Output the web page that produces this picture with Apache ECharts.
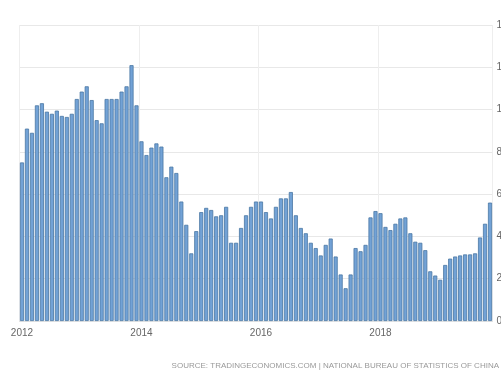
<!DOCTYPE html>
<html>
<head>
<meta charset="utf-8">
<script src="https://cdn.jsdelivr.net/npm/echarts@6/dist/echarts.min.js"></script>
<style>
html,body{margin:0;padding:0;background:#fff;}
#chart{width:501px;height:371px;}
</style>
</head>
<body>
<div id="chart"></div>
<script>
// Monthly categories: Jan 2012 .. Nov 2019
const startYear = 2012;
const monthCount = 95;
const yTicks = [0, 2, 4, 6, 8, 10, 12, 14];
const values = [
  7.5, 9.1, 8.9, 10.2, 10.3, 9.9, 9.8, 9.95, 9.7, 9.65, 9.8, 10.5,
  10.85, 11.1, 10.45, 9.5, 9.35, 10.5, 10.5, 10.5, 10.85, 11.1, 12.1, 10.2,
  8.5, 7.85, 8.2, 8.4, 8.25, 6.8, 7.3, 7.0, 5.65, 4.55, 3.2, 4.25,
  5.15, 5.35, 5.25, 4.95, 5.0, 5.4, 3.7, 3.7, 4.4, 5.0, 5.4, 5.65,
  5.65, 5.15, 4.85, 5.4, 5.8, 5.8, 6.1, 5.0, 4.4, 4.15, 3.7, 3.45,
  3.1, 3.6, 3.9, 3.05, 2.2, 1.55, 2.2, 3.45, 3.3, 3.6, 4.9, 5.2,
  5.1, 4.45, 4.3, 4.6, 4.85, 4.9, 4.15, 3.75, 3.7, 3.35, 2.35, 2.15,
  1.95, 2.65, 2.95, 3.05, 3.1, 3.15, 3.15, 3.2, 3.95, 4.6, 5.6
];
const sourceText = 'SOURCE: TRADINGECONOMICS.COM | NATIONAL BUREAU OF STATISTICS OF CHINA';

const categories = [];
for (let i = 0; i < monthCount; i++) {
  const y = startYear + Math.floor(i / 12);
  const m = (i % 12) + 1;
  categories.push(y + '-' + (m < 10 ? '0' + m : m));
}

const chart = echarts.init(document.getElementById('chart'), null, {renderer: 'canvas'});
chart.setOption({
  animation: false,
  backgroundColor: '#ffffff',
  grid: {left: 19.5, right: 8.5, top: 25, bottom: 50, containLabel: false, outerBoundsMode: 'none'},
  xAxis: {
    type: 'category',
    data: categories,
    boundaryGap: true,
    axisLine: {show: true, lineStyle: {color: '#e2e2e2'}},
    axisTick: {show: false},
    axisLabel: {
      interval: function (idx) { return idx % 24 === 0; },
      formatter: function (v) { return v.slice(0, 4); },
      color: '#666',
      fontSize: 10,
      fontFamily: 'Liberation Sans Narrow, Liberation Sans, Arial',
      margin: 7
    },
    splitLine: {
      show: true,
      interval: function (idx) { return idx % 24 === 0; },
      lineStyle: {color: '#eeeeee', width: 1}
    }
  },
  yAxis: {
    type: 'value',
    position: 'right',
    min: yTicks[0],
    max: yTicks[yTicks.length - 1],
    interval: 2,
    axisLine: {show: false},
    axisTick: {show: false},
    axisLabel: {
      color: '#666',
      fontSize: 10,
      fontFamily: 'Liberation Sans, Arial',
      margin: 4,
      align: 'left'
    },
    splitLine: {show: true, lineStyle: {color: '#e8e8e8', width: 1}}
  },
  series: [{
    type: 'bar',
    data: values,
    barCategoryGap: '18%',
    itemStyle: {
      color: '#72a2d6',
      borderColor: '#4a77a3',
      borderWidth: 0.8
    }
  }],
  graphic: [{
    type: 'text',
    right: 2,
    top: 362,
    style: {
      text: sourceText,
      fill: '#999999',
      fontSize: 8,
      fontFamily: 'Liberation Sans, Arial'
    }
  }]
});
</script>
</body>
</html>
